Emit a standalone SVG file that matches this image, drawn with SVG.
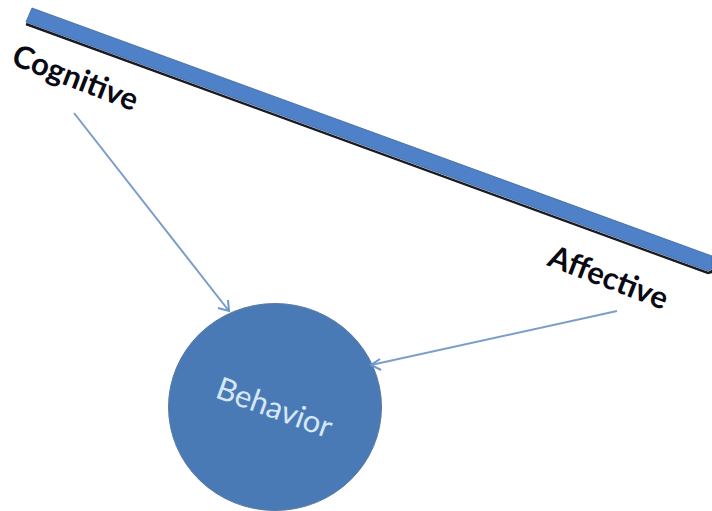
<svg xmlns="http://www.w3.org/2000/svg" width="712" height="511" viewBox="0 0 712 511">
<style>
.lab{font-family:"Lato","Open Sans",sans-serif;font-weight:700;font-size:31px;fill:#0a0a14}
.con{fill:none;stroke:#7b9dc9;stroke-width:2}
.hd{fill:none;stroke:#6f97c8;stroke-width:2}
</style>
<rect width="712" height="511" fill="#fff"/>
<g id="bar">
<polygon points="26,24 708,273 712,271 712,272 708,273" fill="#1a1a22" stroke="#1a1a22" stroke-width="2.4"/>
<polygon points="32,8 712,256 712,269 708,271 26,22" fill="#4f81c9" stroke="#3f6699" stroke-width="0.8"/>
</g>
<g id="cognitive"><text class="lab" transform="translate(10,64) rotate(21)">Cognitive</text></g>
<g id="affective"><text class="lab" transform="translate(546,265) rotate(21)">Affective</text></g>
<g id="behavior">
<ellipse cx="275" cy="407" rx="106.500" ry="103.500" fill="#4a7ab5" stroke="#5a7a9f" stroke-width="1"/>
<text transform="translate(214,397) rotate(20)" font-family="Lato,'Open Sans',sans-serif" font-size="31" fill="#d5e8f7">Behavior</text>
</g>
<g id="connectors">
<path class="con" d="M74,113 L229,311"/>
<path class="hd" d="M218,308 L229,311 L228,300"/>
<path class="con" d="M617,311 L371,365"/>
<path class="hd" d="M380,359 L371,365 L381,370"/>
</g>
</svg>
